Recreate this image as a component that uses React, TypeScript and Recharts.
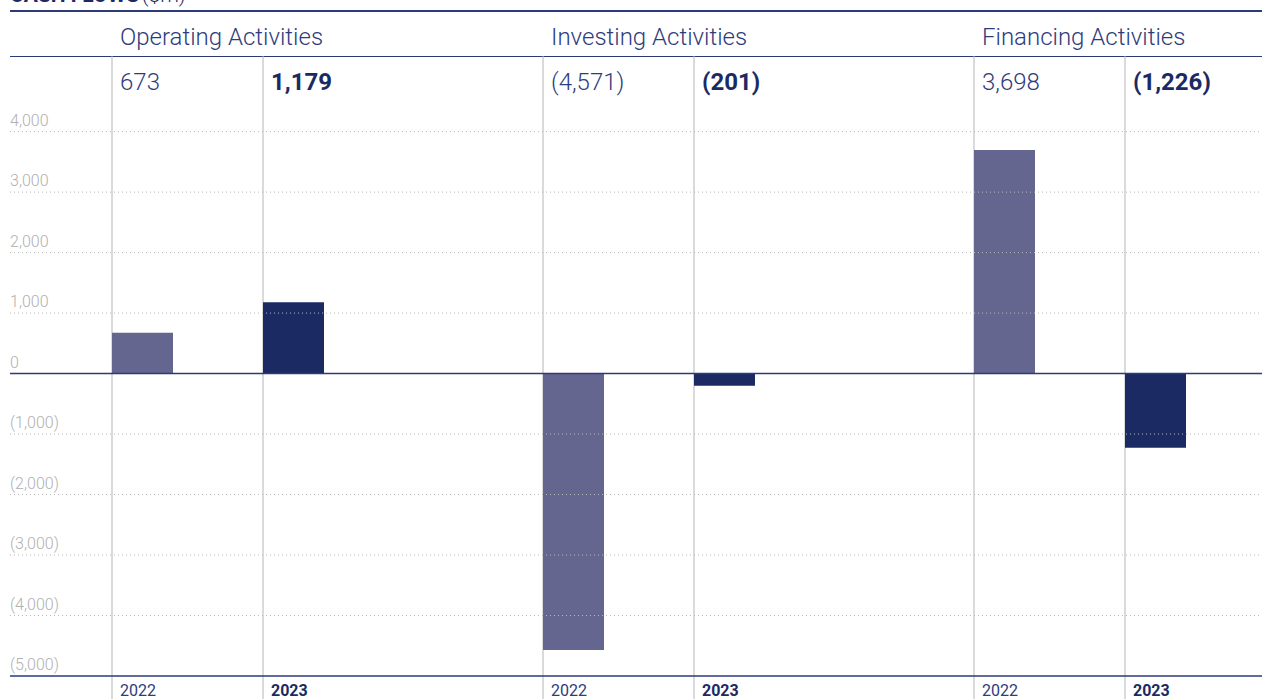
import { Bar, BarChart, LabelList, XAxis, YAxis } from "recharts";

const categories = ["Operating Activities", "Investing Activities", "Financing Activities"];
const values2022 = [673, -4571, 3698];
const values2023 = [1179, -201, -1226];
const yTicks = [-5000, -4000, -3000, -2000, -1000, 0, 1000, 2000, 3000, 4000];

const data = categories.map((name, i) => ({
  name,
  y2022: values2022[i],
  y2023: values2023[i]
}));

const NAVY = "#1b2a63";
const TEXT = "#2e3c7c";
const FONT = "Roboto, 'Noto Sans', sans-serif";

const fmt = (v: number) =>
  v < 0 ? `(${Math.abs(v).toLocaleString("en-US")})` : v.toLocaleString("en-US");

// tick draws its own full-width gridline, solid at 0 and at the bottom
const renderYTick = (props: any) => {
  const { y, payload } = props;
  const v = payload.value as number;
  const solid = v === 0 || v === -5000;
  return (
    <g key={`t-${v}`}>
      <line
        x1={10}
        x2={1262}
        y1={y}
        y2={y}
        stroke={solid ? "#2d3a78" : "#b8b8b8"}
        strokeWidth={solid ? 1.5 : 1}
        strokeDasharray={solid ? undefined : "1 3"}
      />
      <text x={10} y={y - 6} fontSize={16} fill="#b0b0b0" fontWeight={300} fontFamily={FONT}>
        {fmt(v)}
      </text>
    </g>
  );
};

const VLine = (props: any) => (
  <line x1={props.x} x2={props.x} y1={props.y} y2={699} stroke="#b5b5b5" strokeWidth={1} />
);

const makeLabels = (year: string, bold: boolean) => (props: any) => {
  const { x, value, index } = props;
  const color = bold ? NAVY : TEXT;
  const weight = bold ? 700 : 300;
  return (
    <g fontFamily={FONT}>
      {!bold && (
        <text x={x + 8} y={45} fontSize={24} fill={TEXT} fontWeight={300}>
          {categories[index]}
        </text>
      )}
      <text x={x + 8} y={90} fontSize={24} fill={color} fontWeight={weight}>
        {fmt(value)}
      </text>
      <text x={x + 8} y={696} fontSize={16} fill={color} fontWeight={bold ? 700 : 400}>
        {year}
      </text>
    </g>
  );
};

export default function App() {
  return (
    <div
      style={{
        position: "absolute",
        left: 0,
        top: 0,
        width: 1262,
        height: 699,
        overflow: "hidden",
        background: "#fff",
        fontFamily: FONT
      }}
    >
      <div
        style={{
          position: "absolute",
          left: 10,
          top: -15,
          fontSize: 21,
          lineHeight: "21px",
          color: NAVY,
          whiteSpace: "nowrap"
        }}
      >
        <b>CASH FLOWS</b>
        <span style={{ fontWeight: 300, marginLeft: 3 }}>($m)</span>
      </div>
      <div style={{ position: "absolute", left: 10, top: 10, width: 1252, height: 1.5, background: "#2d3a78" }} />
      <div style={{ position: "absolute", left: 10, top: 55.5, width: 1252, height: 1.5, background: "#2d3a78" }} />
      <BarChart
        width={1300}
        height={699}
        data={data}
        margin={{ top: 56, right: 5, bottom: 23, left: 1 }}
        barGap={90}
      >
        <XAxis dataKey="name" hide />
        <YAxis
          width={1}
          domain={[-5000, 5250]}
          ticks={yTicks}
          interval={0}
          axisLine={false}
          tickLine={false}
          tick={renderYTick}
        />
        <Bar dataKey="y2022" fill="#656690" barSize={61} isAnimationActive={false} background={<VLine />}>
          <LabelList dataKey="y2022" content={makeLabels("2022", false)} />
        </Bar>
        <Bar dataKey="y2023" fill={NAVY} barSize={61} isAnimationActive={false} background={<VLine />}>
          <LabelList dataKey="y2023" content={makeLabels("2023", true)} />
        </Bar>
      </BarChart>
    </div>
  );
}
